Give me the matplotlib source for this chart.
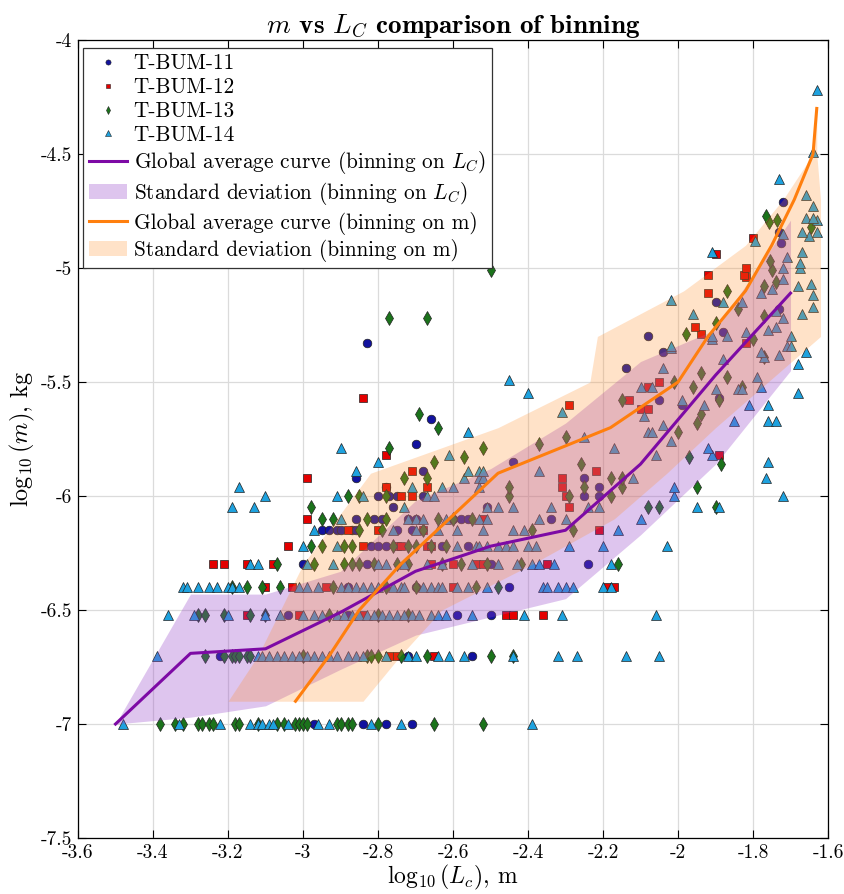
import numpy as np
import matplotlib.pyplot as plt
from matplotlib.lines import Line2D
from matplotlib.patches import Patch
from matplotlib.ticker import FuncFormatter

plt.rcParams['font.family'] = ['cmr10', 'DejaVu Serif']
plt.rcParams['mathtext.fontset'] = 'cm'
plt.rcParams['axes.unicode_minus'] = False
plt.rcParams['axes.formatter.use_mathtext'] = True

# average curve, binning on L_C (x bins, y = log10 m)
lc_bins = [-3.5, -3.3, -3.1, -2.9, -2.7, -2.5, -2.3, -2.1, -1.9, -1.7]
m_avg_lc = [-7.0, -6.69, -6.67, -6.51, -6.33, -6.22, -6.15, -5.86, -5.47, -5.11]
m_hi_lc = [-7.0, -6.43, -6.43, -6.33, -6.02, -5.88, -5.68, -5.41, -5.27, -4.79]
m_lo_lc = [-7.0, -6.97, -6.92, -6.76, -6.61, -6.53, -6.45, -6.17, -5.86, -5.45]

# average curve, binning on m (y bins, x = log10 Lc)
m_bins = [-6.9, -6.7, -6.5, -6.3, -6.1, -5.9, -5.7, -5.5, -5.3, -5.1, -4.9, -4.7, -4.5, -4.3]
lc_avg_m = [-3.02, -2.93, -2.85, -2.74, -2.61, -2.48, -2.18, -2.0, -1.92, -1.82, -1.75, -1.69, -1.64, -1.63]
lc_lo_m = [-3.20, -3.12, -3.06, -3.0, -2.91, -2.82, -2.48, -2.235, -2.215, -1.985, -1.82, -1.72, -1.64, -1.63]
lc_hi_m = [-2.84, -2.74, -2.63, -2.39, -2.17, -2.03, -1.90, -1.76, -1.62, -1.62, -1.62, -1.62, -1.63, -1.63]

# scatter points, rows of (log10 m, [log10 Lc ...])
rows_11 = [
    (-7.0, [-2.97, -2.84, -2.78, -2.71]),
    (-6.7, [-3.22, -2.72, -2.55]),
    (-6.52, [-3.04, -2.88, -2.59, -2.50]),
    (-6.4, [-2.88, -2.70, -2.45]),
    (-6.3, [-3.0, -2.83, -2.50, -2.24]),
    (-6.22, [-2.82, -2.80, -2.78, -2.63, -2.56]),
    (-6.15, [-2.95, -2.93, -2.91, -2.90, -2.87, -2.86, -2.75, -2.71]),
    (-6.1, [-2.86, -2.81, -2.79, -2.72, -2.70, -2.60, -2.58, -2.56, -2.34]),
    (-6.05, [-2.76, -2.51]),
    (-6.0, [-2.80, -2.77, -2.75, -2.68, -2.25, -2.21]),
    (-5.96, [-2.78, -2.21]),
    (-5.92, [-2.86, -2.25]),
    (-5.89, [-2.68]),
    (-5.85, [-2.44]),
    (-5.77, [-2.70]),
    (-5.66, [-2.66]),
    (-5.60, [-1.99]),
    (-5.58, [-2.05]),
    (-5.57, [-1.89]),
    (-5.44, [-2.14]),
    (-5.37, [-2.04]),
    (-5.33, [-2.83]),
    (-5.30, [-2.08]),
    (-5.28, [-1.88]),
    (-5.18, [-1.73]),
    (-5.15, [-1.90]),
    (-4.89, [-1.725]),
    (-4.84, [-1.73]),
    (-4.71, [-1.72]),
]

rows_12 = [
    (-6.7, [-2.77, -2.75, -2.65]),
    (-6.52, [-3.15, -3.01, -2.84, -2.46, -2.44, -2.36]),
    (-6.4, [-3.10, -3.03, -2.94, -2.60, -2.19, -2.17]),
    (-6.3, [-3.24, -3.21, -3.15, -3.08, -2.66, -2.60, -2.54, -2.52, -2.35]),
    (-6.22, [-3.04, -2.84, -2.75, -2.74, -2.67, -2.66]),
    (-6.15, [-2.88, -2.80, -2.68, -2.21]),
    (-6.1, [-2.99, -2.52]),
    (-6.05, [-2.29]),
    (-6.0, [-2.74, -2.71, -2.30]),
    (-5.96, [-2.78, -2.67, -2.31]),
    (-5.92, [-2.99, -2.31]),
    (-5.89, [-2.71, -2.22]),
    (-5.82, [-2.78, -1.89]),
    (-5.62, [-2.10, -2.08]),
    (-5.60, [-2.29]),
    (-5.58, [-2.13]),
    (-5.57, [-2.84]),
    (-5.52, [-2.08]),
    (-5.50, [-2.05]),
    (-5.33, [-1.82]),
    (-5.29, [-1.94]),
    (-5.26, [-1.955]),
    (-5.11, [-1.92]),
    (-5.04, [-1.82]),
    (-5.03, [-1.92, -1.825]),
    (-5.0, [-1.82]),
    (-4.94, [-1.90]),
    (-4.87, [-1.80]),
]

rows_13 = [
    (-7.0, [-3.38, -3.34, -3.32, -3.28, -3.27, -3.25, -3.24, -3.18, -3.17, -3.12, -3.07, -3.05,
            -3.02, -3.01, -3.00, -2.99, -2.91, -2.90, -2.88, -2.87, -2.80, -2.65, -2.52]),
    (-6.7, [-3.26, -3.21, -3.19, -3.18, -3.17, -3.15, -3.14, -3.00, -2.83, -2.82, -2.80, -2.74,
            -2.67, -2.50, -2.44]),
    (-6.52, [-3.28, -3.26, -3.21, -3.14, -3.10, -2.93, -2.80, -2.72]),
    (-6.4, [-3.19, -3.15, -3.11, -3.06, -2.92, -2.78, -2.70, -2.54, -2.48]),
    (-6.3, [-3.07, -2.97, -2.89, -2.87, -2.85, -2.81, -2.75, -2.72, -2.63, -2.58, -2.51, -2.42, -2.16]),
    (-6.22, [-2.98, -2.95, -2.89, -2.87, -2.76, -2.72, -2.70, -2.66, -2.62]),
    (-6.15, [-2.85, -2.79, -2.68, -2.39, -2.28]),
    (-6.1, [-2.95, -2.92, -2.83, -2.78, -2.64, -2.60, -2.55]),
    (-6.05, [-2.98, -2.08, -2.05, -1.90]),
    (-6.0, [-2.88, -2.85, -2.78, -2.45, -2.29, -2.18]),
    (-5.96, [-2.45, -2.25, -2.15, -1.95]),
    (-5.92, [-2.73, -2.67, -2.18, -2.15]),
    (-5.86, [-2.26, -1.885]),
    (-5.85, [-2.65]),
    (-5.83, [-2.57, -1.97]),
    (-5.79, [-2.77, -2.52]),
    (-5.77, [-2.37]),
    (-5.74, [-2.30]),
    (-5.72, [-2.00]),
    (-5.70, [-2.64]),
    (-5.68, [-1.95]),
    (-5.64, [-2.69, -1.94]),
    (-5.58, [-2.15, -1.89]),
    (-5.52, [-1.96, -1.83]),
    (-5.50, [-2.01]),
    (-5.48, [-1.87]),
    (-5.46, [-1.94]),
    (-5.39, [-1.77]),
    (-5.31, [-1.80]),
    (-5.29, [-1.98]),
    (-5.24, [-1.90]),
    (-5.22, [-2.77, -2.67]),
    (-5.21, [-1.77]),
    (-5.18, [-1.84]),
    (-5.10, [-1.87]),
    (-5.08, [-1.77]),
    (-5.06, [-1.74]),
    (-5.01, [-2.50, -1.75]),
    (-4.97, [-1.755]),
    (-4.82, [-1.645]),
    (-4.80, [-1.757]),
    (-4.79, [-1.736]),
    (-4.77, [-1.765]),
]

rows_14 = [
    (-7.0, [-3.48, -3.33, -3.22, -3.14, -3.12, -3.11, -3.09, -3.08, -3.04, -2.96, -2.93, -2.82,
            -2.74, -2.39]),
    (-6.7, [-3.39, -3.12, -3.11, -3.09, -3.07, -3.05, -3.03, -3.01, -2.99, -2.97, -2.95, -2.93,
            -2.91, -2.88, -2.86, -2.84, -2.78, -2.72, -2.70, -2.64, -2.61, -2.57, -2.44, -2.32,
            -2.27, -2.14, -2.05]),
    (-6.52, [-3.36, -3.29, -3.20, -3.10, -3.06, -3.00, -2.97, -2.95, -2.91, -2.89, -2.87, -2.85,
             -2.83, -2.81, -2.79, -2.77, -2.75, -2.73, -2.71, -2.69, -2.66, -2.64, -2.62, -2.55,
             -2.41, -2.31, -2.06]),
    (-6.4, [-3.32, -3.31, -3.28, -3.25, -3.23, -3.20, -3.19, -3.17, -3.01, -2.99, -2.96, -2.90,
            -2.88, -2.86, -2.84, -2.82, -2.80, -2.76, -2.74, -2.73, -2.68, -2.66, -2.64, -2.63,
            -2.59, -2.56, -2.51, -2.36, -2.35, -2.32, -2.30, -2.28, -2.20, -2.18]),
    (-6.3, [-3.14, -3.12, -2.99, -2.92, -2.80, -2.78, -2.73, -2.67, -2.63, -2.55, -2.48, -2.43,
            -2.39, -2.37, -2.33, -2.18]),
    (-6.22, [-3.00, -2.91, -2.59, -2.54, -2.53, -2.51, -2.48, -2.46, -2.44, -2.40, -2.38, -2.29,
             -2.20, -2.03]),
    (-6.15, [-2.97, -2.76, -2.70, -2.64, -2.59, -2.52, -2.44, -2.41, -2.16]),
    (-6.1, [-2.90, -2.72, -2.70, -2.68, -2.62, -2.53, -2.51, -2.37, -2.30, -2.10]),
    (-6.05, [-3.19, -3.13, -2.73, -2.51, -2.48, -2.44, -2.34, -2.24, -2.21, -1.95, -1.89]),
    (-6.0, [-3.10, -2.91, -2.84, -2.67, -2.65, -2.01, -1.72]),
    (-5.96, [-3.17, -2.71, -2.63, -2.60, -2.53, -2.01]),
    (-5.92, [-2.57, -2.53, -2.52, -2.12, -1.765]),
    (-5.89, [-2.86, -2.56, -2.53, -2.52, -2.37]),
    (-5.85, [-2.80, -1.76]),
    (-5.82, [-2.61, -2.06, -1.91]),
    (-5.79, [-2.90, -2.17, -1.92]),
    (-5.76, [-2.02]),
    (-5.74, [-2.25]),
    (-5.72, [-2.56, -2.08, -2.07]),
    (-5.69, [-2.04]),
    (-5.67, [-1.85, -1.76, -1.74]),
    (-5.65, [-2.09]),
    (-5.63, [-2.31]),
    (-5.60, [-1.93, -1.81, -1.76]),
    (-5.58, [-1.99]),
    (-5.55, [-2.40, -1.68]),
    (-5.53, [-1.90, -1.84, -1.83]),
    (-5.52, [-2.10, -2.07, -1.78]),
    (-5.49, [-2.45]),
    (-5.48, [-1.79]),
    (-5.44, [-2.04]),
    (-5.42, [-1.68]),
    (-5.40, [-1.88]),
    (-5.39, [-1.77]),
    (-5.38, [-1.73]),
    (-5.37, [-1.78, -1.66]),
    (-5.35, [-2.02]),
    (-5.34, [-2.02, -1.71, -1.70]),
    (-5.31, [-1.91]),
    (-5.30, [-1.91, -1.87, -1.70]),
    (-5.28, [-1.82]),
    (-5.27, [-1.76]),
    (-5.26, [-1.74]),
    (-5.22, [-1.72]),
    (-5.20, [-1.96, -1.67]),
    (-5.19, [-1.74]),
    (-5.17, [-1.64]),
    (-5.15, [-1.88, -1.83]),
    (-5.14, [-2.02]),
    (-5.12, [-1.64]),
    (-5.11, [-1.78]),
    (-5.09, [-1.75]),
    (-5.08, [-1.68]),
    (-5.07, [-1.645]),
    (-5.05, [-1.72]),
    (-5.00, [-1.72, -1.675]),
    (-4.98, [-1.675]),
    (-4.95, [-1.71]),
    (-4.93, [-1.91, -1.67]),
    (-4.88, [-1.795]),
    (-4.86, [-1.65]),
    (-4.85, [-1.72]),
    (-4.84, [-1.67, -1.63]),
    (-4.79, [-1.63]),
    (-4.78, [-1.66, -1.64]),
    (-4.73, [-1.64]),
    (-4.68, [-1.66]),
    (-4.61, [-1.73]),
    (-4.49, [-1.64]),
    (-4.22, [-1.63]),
]


def unpack(rows):
    xs, ys = [], []
    for y, xrow in rows:
        xs += xrow
        ys += [y] * len(xrow)
    return xs, ys


series = [
    ('T-BUM-11', rows_11, 'o', '#12129e', 6.2),
    ('T-BUM-12', rows_12, 's', '#e40000', 5.4),
    ('T-BUM-13', rows_13, 'd', '#1b731b', 7.0),
    ('T-BUM-14', rows_14, '^', '#1ea2df', 7.6),
]

fig = plt.figure(figsize=(8.45, 8.94), dpi=100)
ax = fig.add_axes([0.0923, 0.0626, 0.8876, 0.8926])

handles = []
for name, rows, mk, col, ms in series:
    x, y = unpack(rows)
    ax.plot(x, y, mk, color=col, markersize=ms, markeredgecolor='#222222',
            markeredgewidth=0.5, zorder=2)
    handles.append(Line2D([], [], marker=mk, color=col, linestyle='none',
                          markersize=ms * 0.6, markeredgecolor='#222222',
                          markeredgewidth=0.4, label=name))

purple = '#7d0aa5'
orange = '#ff7f0e'
ax.fill_between(lc_bins, m_lo_lc, m_hi_lc, color='#9440c8', alpha=0.3, lw=0, zorder=3)
ax.fill_betweenx(m_bins, lc_lo_m, lc_hi_m, color='#ff8c26', alpha=0.25, lw=0, zorder=3)
ax.plot(lc_bins, m_avg_lc, color=purple, lw=2.2, zorder=4)
ax.plot(lc_avg_m, m_bins, color=orange, lw=2.2, zorder=4)

handles += [
    Line2D([], [], color=purple, lw=2.2, label=r'Global average curve (binning on $L_C$)'),
    Patch(facecolor='#9440c8', alpha=0.3, lw=0, label=r'Standard deviation (binning on $L_C$)'),
    Line2D([], [], color=orange, lw=2.2, label='Global average curve (binning on m)'),
    Patch(facecolor='#ff8c26', alpha=0.25, lw=0, label='Standard deviation (binning on m)'),
]

ax.set_xlim(-3.6, -1.6)
ax.set_ylim(-7.5, -4)
ax.set_xticks(np.arange(-3.6, -1.59, 0.2))
ax.set_yticks(np.arange(-7.5, -3.99, 0.5))
fmt = FuncFormatter(lambda v, p: '%g' % round(v, 2))
ax.xaxis.set_major_formatter(fmt)
ax.yaxis.set_major_formatter(fmt)
ax.tick_params(direction='in', top=True, right=True, length=6, width=0.8,
               labelsize=14, pad=4)
ax.grid(True, color='0.86', lw=0.9, zorder=0)
ax.set_axisbelow(True)
for s in ax.spines.values():
    s.set_linewidth(0.9)

ax.set_xlabel(r'$\log_{10}(L_c)$, m', fontsize=17, labelpad=1)
ax.set_ylabel(r'$\log_{10}(m)$, kg', fontsize=17.5, labelpad=3)
ax.set_title(r'$m$ vs $L_C$ comparison of binning', fontsize=19.5, fontweight='bold',
             family=['cmb10', 'DejaVu Serif'], pad=5)

leg = ax.legend(handles=handles, loc='upper left', bbox_to_anchor=(0.0067, 0.99),
                borderaxespad=0, fontsize=15.3, fancybox=False, framealpha=1,
                edgecolor='#333333', labelspacing=0.2, handlelength=1.8,
                handletextpad=0.3, borderpad=0.28)
leg.get_frame().set_linewidth(0.9)

fig.savefig('out.png', dpi=100)
